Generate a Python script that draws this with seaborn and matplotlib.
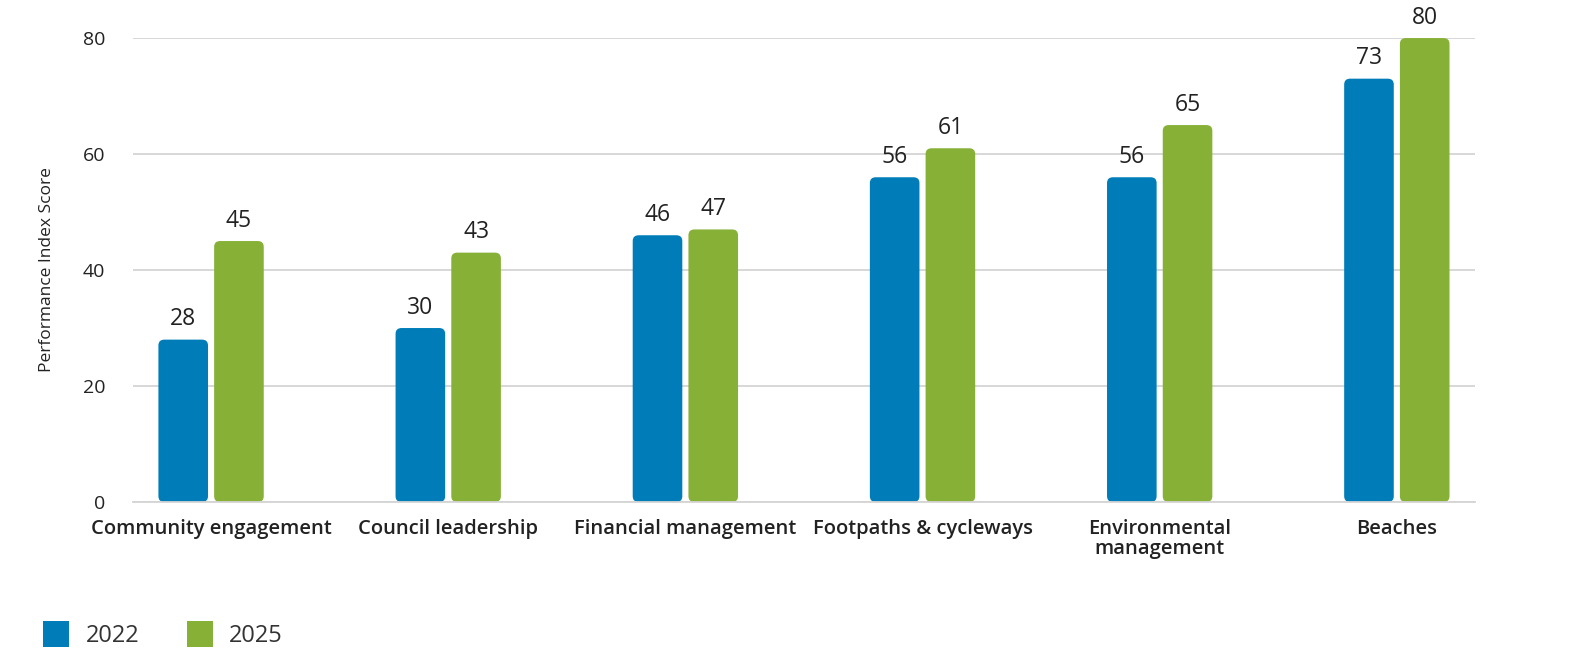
import pandas as pd
import matplotlib.pyplot as plt
import seaborn as sns
from matplotlib.patches import FancyBboxPatch, Patch

# Data
categories = ["Community engagement", "Council leadership", "Financial management",
              "Footpaths & cycleways", "Environmental\nmanagement", "Beaches"]
scores_2022 = [28, 30, 46, 56, 56, 73]
scores_2025 = [45, 43, 47, 61, 65, 80]
years = ["2022", "2025"]

df = pd.DataFrame({
    "category": categories * 2,
    "year": [years[0]] * len(categories) + [years[1]] * len(categories),
    "score": scores_2022 + scores_2025,
})

palette = {"2022": "#007DB8", "2025": "#86B036"}
text_col = "#222222"

sns.set_theme(style="white")
plt.rcParams["font.family"] = ["Open Sans", "DejaVu Sans"]

fig = plt.figure(figsize=(15.69, 6.68), dpi=100)
ax = fig.add_axes([0.0848, 0.2485, 0.8552, 0.6945])

sns.barplot(data=df, x="category", y="score", hue="year", palette=palette,
            width=0.47, gap=0.11, ax=ax, legend=False, saturation=1)

# rounded corners
for bar in list(ax.patches):
    x, y = bar.get_x(), bar.get_y()
    w, h = bar.get_width(), bar.get_height()
    fc = bar.get_facecolor()
    bar.set_visible(False)
    rb = FancyBboxPatch((x, y), w, h, boxstyle="round,pad=0,rounding_size=0.025",
                        mutation_aspect=40, facecolor=fc, edgecolor="none")
    ax.add_patch(rb)

for cont in ax.containers:
    ax.bar_label(cont, padding=6, fontsize=16.5, color=text_col, clip_on=False)

ax.set_xlim(-0.329, 5.329)
ax.set_ylim(0, 80)
ax.set_yticks([0, 20, 40, 60, 80])
ax.yaxis.grid(True, color="#d4d4d4", linewidth=1.3)
ax.set_axisbelow(True)
for s in ["top", "right", "left"]:
    ax.spines[s].set_visible(False)
ax.spines["bottom"].set_color("#d4d4d4")
ax.spines["bottom"].set_linewidth(1.3)

ax.tick_params(axis="y", length=0, pad=20, labelsize=14, labelcolor=text_col)
ax.tick_params(axis="x", length=8, width=1, color="#cccccc", pad=4,
               labelsize=14.5, labelcolor=text_col)
for lbl in ax.get_xticklabels():
    lbl.set_fontweight("semibold")
    lbl.set_linespacing(1.0)

ax.set_xlabel("")
ax.set_ylabel("Performance Index Score", fontsize=12.5, color=text_col, labelpad=20)

handles = [Patch(facecolor=palette[y], edgecolor="none", label=y) for y in years]
fig.legend(handles=handles, loc="center left", bbox_to_anchor=(0.014, 0.05),
           ncol=2, frameon=False, fontsize=17, handlelength=1.1, handleheight=1.3,
           columnspacing=2.0, handletextpad=0.7, labelcolor="#333333")

fig.savefig("out.png", dpi=100, facecolor="white")
